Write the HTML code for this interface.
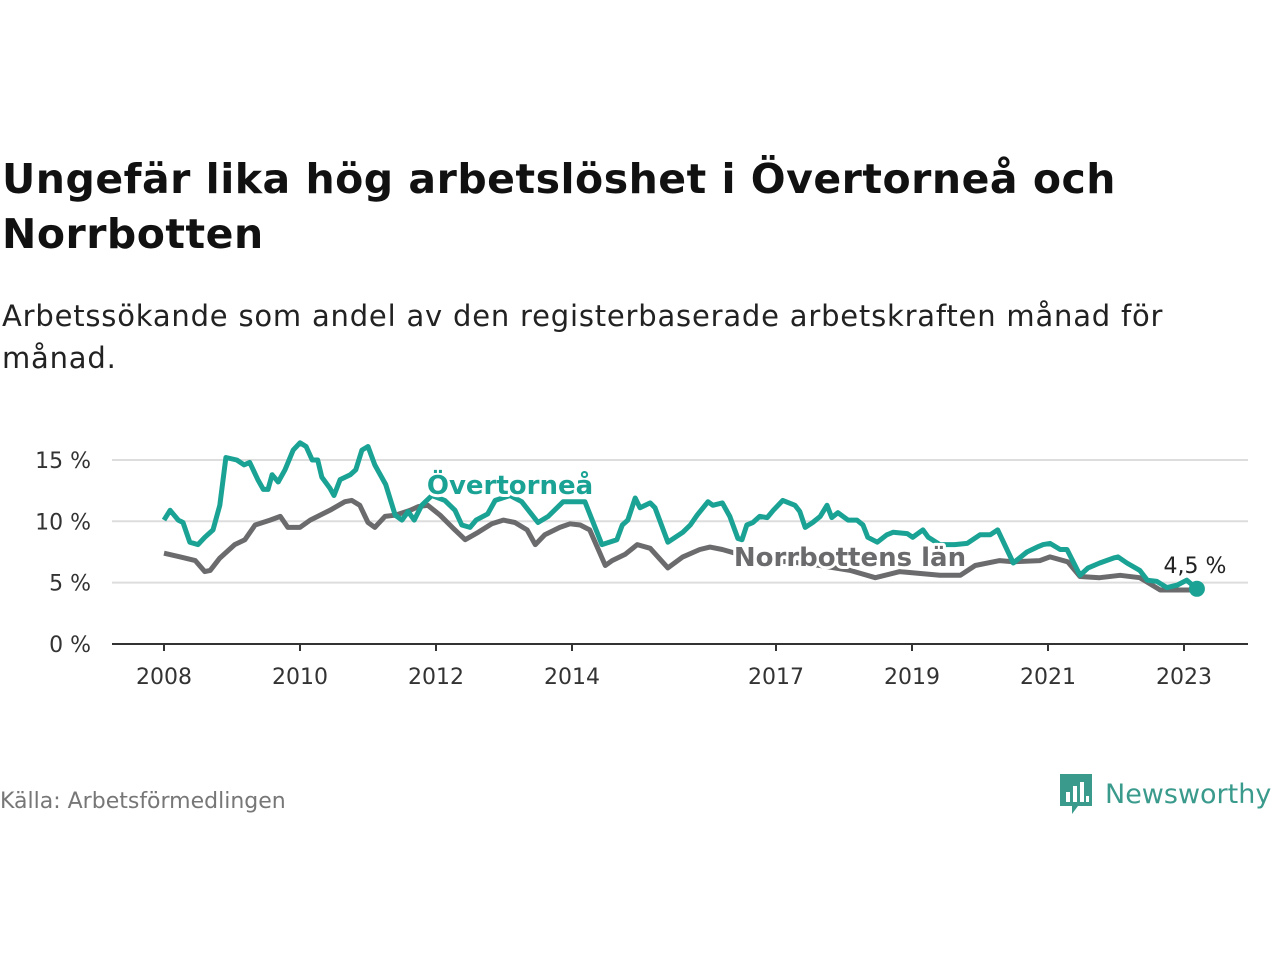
<!DOCTYPE html>
<html><head><meta charset="utf-8"><style>
body{margin:0;width:1280px;height:960px;background:#fff;font-family:"DejaVu Sans","Liberation Sans",sans-serif;overflow:hidden;position:relative}
h1{position:absolute;left:2px;top:152px;margin:0;font-size:41px;line-height:55px;font-weight:bold;color:#111;letter-spacing:0.5px}
.sub{position:absolute;left:2px;top:295px;margin:0;font-size:29px;line-height:42px;color:#222;letter-spacing:0.8px}
.src{position:absolute;left:0;top:789px;font-size:22px;color:#777}
.logo{position:absolute;left:1058px;top:772px;display:flex;align-items:center}
.logo span{font-size:27px;color:#3a9a8c;margin-left:11px}
</style></head><body>
<h1>Ungefär lika hög arbetslöshet i Övertorneå och<br>Norrbotten</h1>
<p class="sub">Arbetssökande som andel av den registerbaserade arbetskraften månad för<br>månad.</p>
<svg id="chart" width="1280" height="960" style="position:absolute;left:0;top:0" xmlns="http://www.w3.org/2000/svg"></svg>
<div class="src">Källa: Arbetsförmedlingen</div>
<div class="logo">
<svg width="36" height="44" viewBox="0 0 36 44"><path d="M2 2h32v32H20l-6 8v-8H2z" fill="#3a9a8c"/><rect x="8" y="20" width="4" height="10" fill="#fff"/><rect x="15" y="14" width="4" height="16" fill="#fff"/><rect x="22" y="10" width="4" height="20" fill="#fff"/><rect x="28" y="24" width="3" height="6" fill="#fff"/></svg>
<span>Newsworthy</span></div>
<script>
const yTicks=[0,5,10,15];
const xTicks=[2008,2010,2012,2014,2017,2019,2021,2023];
const tYears=[2008.0,2008.09,2008.21,2008.28,2008.38,2008.5,2008.6,2008.72,2008.82,2008.91,2009.07,2009.18,2009.26,2009.38,2009.46,2009.53,2009.59,2009.68,2009.78,2009.9,2010.0,2010.09,2010.18,2010.26,2010.32,2010.44,2010.5,2010.59,2010.74,2010.82,2010.91,2011.0,2011.1,2011.26,2011.4,2011.5,2011.59,2011.68,2011.79,2011.94,2012.13,2012.28,2012.38,2012.5,2012.59,2012.76,2012.87,2013.09,2013.26,2013.5,2013.65,2013.87,2014.19,2014.44,2014.66,2014.74,2014.82,2014.93,2015.0,2015.15,2015.22,2015.41,2015.63,2015.74,2015.84,2016.0,2016.07,2016.21,2016.32,2016.44,2016.5,2016.57,2016.66,2016.76,2016.87,2016.96,2017.1,2017.28,2017.35,2017.43,2017.54,2017.65,2017.75,2017.82,2017.91,2018.06,2018.19,2018.28,2018.35,2018.49,2018.63,2018.72,2018.93,2019.01,2019.16,2019.24,2019.41,2019.63,2019.81,2020.0,2020.15,2020.26,2020.49,2020.69,2020.84,2020.93,2021.03,2021.18,2021.28,2021.47,2021.59,2021.76,2021.96,2022.03,2022.16,2022.35,2022.46,2022.6,2022.75,2022.9,2023.04,2023.19];
const tVals=[10.1,10.9,10.1,9.9,8.3,8.1,8.7,9.3,11.3,15.2,15.0,14.6,14.8,13.4,12.6,12.6,13.8,13.2,14.2,15.8,16.4,16.1,15.0,15.0,13.6,12.7,12.1,13.4,13.8,14.2,15.8,16.1,14.6,13.0,10.5,10.1,10.8,10.1,11.3,12.1,11.7,10.9,9.7,9.5,10.1,10.6,11.7,12.1,11.6,9.9,10.4,11.6,11.6,8.1,8.5,9.7,10.1,11.9,11.1,11.5,11.1,8.3,9.1,9.7,10.5,11.6,11.3,11.5,10.4,8.6,8.5,9.7,9.9,10.4,10.3,10.9,11.7,11.3,10.8,9.5,9.9,10.4,11.3,10.3,10.7,10.1,10.1,9.7,8.7,8.3,8.9,9.1,9.0,8.7,9.3,8.7,8.1,8.1,8.2,8.9,8.9,9.3,6.6,7.5,7.9,8.1,8.2,7.7,7.7,5.6,6.2,6.6,7.0,7.1,6.6,6.0,5.2,5.1,4.6,4.8,5.2,4.5];
const nYears=[2008.0,2008.24,2008.46,2008.6,2008.68,2008.82,2009.04,2009.19,2009.34,2009.56,2009.71,2009.82,2010.0,2010.15,2010.44,2010.66,2010.76,2010.88,2011.0,2011.1,2011.25,2011.4,2011.62,2011.74,2011.88,2012.06,2012.24,2012.43,2012.62,2012.82,2012.99,2013.16,2013.34,2013.46,2013.6,2013.82,2013.97,2014.12,2014.26,2014.49,2014.59,2014.78,2014.96,2015.15,2015.41,2015.63,2015.88,2016.03,2016.21,2016.4,2016.76,2017.21,2017.65,2018.09,2018.46,2018.82,2019.41,2019.71,2019.93,2020.29,2020.49,2020.88,2021.03,2021.29,2021.47,2021.76,2022.06,2022.35,2022.65,2022.94,2023.15];
const nVals=[7.4,7.1,6.8,5.9,6.0,7.0,8.1,8.5,9.7,10.1,10.4,9.5,9.5,10.1,10.9,11.6,11.7,11.3,9.9,9.5,10.4,10.5,10.9,11.2,11.3,10.5,9.5,8.5,9.1,9.8,10.1,9.9,9.3,8.1,8.9,9.5,9.8,9.7,9.3,6.4,6.8,7.3,8.1,7.8,6.2,7.1,7.7,7.9,7.7,7.4,6.8,6.7,6.4,6.0,5.4,5.9,5.6,5.6,6.4,6.8,6.7,6.8,7.1,6.7,5.5,5.4,5.6,5.4,4.4,4.4,4.4];
const NS="http://www.w3.org/2000/svg";
const svg=document.getElementById('chart');
const X=yr=>164+(yr-2008)*68;
const Y=v=>644-v*12.27;
function mk(t,a){const e=document.createElementNS(NS,t);for(const k in a)e.setAttribute(k,a[k]);svg.appendChild(e);return e;}
yTicks.forEach(v=>{
  if(v>0){const g=mk('line',{x1:112,x2:1248,y1:Y(v),y2:Y(v),stroke:'#ddd','stroke-width':2});
  
  }
  const t=mk('text',{x:91,y:Y(v)+8,'text-anchor':'end','font-size':22,fill:'#333'});
  t.textContent=v+' %';
  
  
});
const ax=mk('line',{x1:112,x2:1248,y1:644,y2:644,stroke:'#333','stroke-width':2});


xTicks.forEach(yr=>{
  const tk=mk('line',{x1:X(yr),x2:X(yr),y1:644,y2:651,stroke:'#333','stroke-width':2});
  
  
  const t=mk('text',{x:X(yr),y:684,'text-anchor':'middle','font-size':22,fill:'#333'});
  t.textContent=yr;
  
  
});
function line(xs,vs,c,name){
  const p=mk('path',{d:xs.map((x,i)=>(i?'L':'M')+X(x).toFixed(1)+' '+Y(vs[i]).toFixed(1)).join(''),fill:'none',stroke:c,'stroke-width':5,'stroke-linejoin':'round'});
  
  
}
line(nYears,nVals,'#6b6b6d','norrbotten-line');
line(tYears,tVals,'#1aa394','overtornea-line');
const d=mk('circle',{cx:X(tYears[tYears.length-1]),cy:Y(tVals[tVals.length-1]),r:8,fill:'#1aa394'});


function lab(x,y,txt,c,name,size,bold,anchor){
  const t=mk('text',{x:x,y:y,'text-anchor':anchor,'font-size':size,'font-weight':bold?'bold':'normal',fill:c,stroke:'#fff','stroke-width':6,'paint-order':'stroke','stroke-linejoin':'round'});
  t.textContent=txt;
  
  
}
lab(510,494,'Övertorneå','#1aa394','overtornea-label',26,true,'middle');
lab(850,566,'Norrbottens län','#6b6b6d','norrbotten-label',26,true,'middle');
lab(1195,573,'4,5 %','#222','last-value-label',22,false,'middle');
</script>
</body></html>
